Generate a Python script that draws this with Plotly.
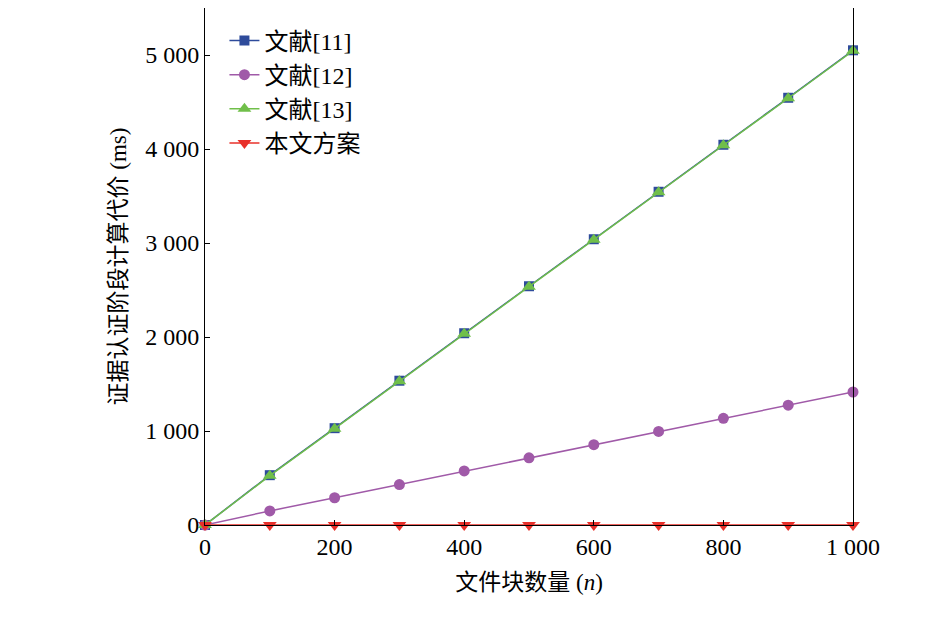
import plotly.graph_objects as go

n = [0, 100, 200, 300, 400, 500, 600, 700, 800, 900, 1000]
ref11 = [0, 530, 1030, 1535, 2040, 2540, 3040, 3545, 4045, 4545, 5050]
ref12 = [0, 150, 290, 430, 575, 715, 855, 995, 1135, 1275, 1415]
ref13 = [0, 525, 1025, 1530, 2035, 2535, 3035, 3540, 4040, 4540, 5045]
ours = [0, 0, 0, 0, 0, 0, 0, 0, 0, 0, 0]

series = [
    ("文献[11]", ref11, "#2e4b9b", "square", 10),
    ("文献[12]", ref12, "#a05aa8", "circle", 11),
    ("文献[13]", ref13, "#70bf4a", "triangle-up", 12),
    ("本文方案", ours, "#e8302a", "triangle-down", 12),
]

fig = go.Figure()
for name, ys, color, sym, size in series:
    fig.add_trace(go.Scatter(
        x=n, y=ys, name=name, mode="lines+markers",
        line=dict(color=color, width=1.5),
        marker=dict(symbol=sym, size=size, color=color),
        cliponaxis=False,
    ))

axis_common = dict(
    showline=True, linecolor="black", linewidth=1, mirror=True,
    ticks="inside", ticklen=5, tickcolor="black", showgrid=False, zeroline=False,
    tickfont=dict(size=24),
)

fig.update_layout(
    width=945, height=638,
    margin=dict(l=197, r=100, t=0, b=121),
    plot_bgcolor="white", paper_bgcolor="white",
    font=dict(family="Liberation Serif, Noto Sans CJK SC", size=24, color="black"),
    legend=dict(x=0.03, y=0.98, xanchor="left", yanchor="top",
                bgcolor="rgba(0,0,0,0)", font=dict(size=24)),
    xaxis=dict(range=[0, 1000], tickvals=[0, 200, 400, 600, 800, 1000],
               ticktext=["0", "200", "400", "600", "800", "1 000"],
               title=dict(text="文件块数量 (<i>n</i>)", standoff=15, font=dict(size=23)),
               **axis_common),
    yaxis=dict(range=[0, 5500], tickvals=[0, 1000, 2000, 3000, 4000, 5000],
               ticktext=["0", "1 000", "2 000", "3 000", "4 000", "5 000"],
               title=dict(text="证据认证阶段计算代价 (ms)", standoff=12, font=dict(size=23)),
               **axis_common),
)

fig.write_html("out.html")
